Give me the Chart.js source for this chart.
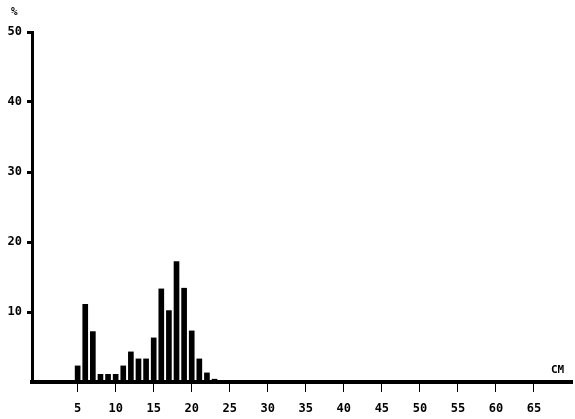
<!DOCTYPE html>
<html>
<head>
<meta charset="utf-8">
<script src="https://cdn.jsdelivr.net/npm/chart.js@4"></script>
<style>
  html, body { margin: 0; padding: 0; background: #fff; }
  #wrap { width: 575px; height: 419px; }
</style>
</head>
<body>
<div id="wrap"><canvas id="chart" width="575" height="419"></canvas></div>
<script>
// length class (cm) and share of catch (%)
const lengths = [5, 6, 7, 8, 9, 10, 11, 12, 13, 14, 15, 16, 17, 18, 19, 20, 21, 22, 23];
const percents = [2.3, 11.1, 7.2, 1.1, 1.1, 1.1, 2.3, 4.3, 3.3, 3.3, 6.3, 13.3, 10.2, 17.2, 13.4, 7.3, 3.3, 1.3, 0.4];
const xTicks = [5, 10, 15, 20, 25, 30, 35, 40, 45, 50, 55, 60, 65];
const yTicks = [10, 20, 30, 40, 50];
const xUnit = 'CM';
const yUnit = '%';

const font = { family: 'DejaVu Sans Mono', size: 12, weight: 'bold' };

const unitLabels = {
  id: 'unitLabels',
  afterDraw(chart) {
    const ctx = chart.ctx;
    const area = chart.chartArea;
    ctx.save();
    ctx.fillStyle = '#000';
    ctx.font = 'bold 11px "DejaVu Sans Mono"';
    ctx.textAlign = 'left';
    ctx.textBaseline = 'alphabetic';
    ctx.fillText(xUnit, area.right - 21, area.bottom - 9);
    ctx.fillText(yUnit, 11, 15);
    ctx.restore();
  }
};

new Chart(document.getElementById('chart'), {
  type: 'bar',
  data: {
    datasets: [{
      data: lengths.map((l, i) => ({ x: l, y: percents[i] })),
      backgroundColor: '#000',
      borderWidth: 0,
      barThickness: 5
    }]
  },
  options: {
    responsive: false,
    animation: false,
    layout: { padding: { top: 32, right: 3, left: 0, bottom: 0 } },
    plugins: { legend: { display: false }, tooltip: { enabled: false } },
    scales: {
      x: {
        type: 'linear',
        min: -1,
        max: 70,
        offset: false,
        afterBuildTicks: s => { s.ticks = xTicks.map(v => ({ value: v })); },
        afterFit: s => { s.height = 37; },
        grid: { display: true, offset: false, drawOnChartArea: false, drawTicks: true, tickLength: 10, color: '#000', lineWidth: 1 },
        border: { display: true, color: '#000', width: 4, dash: [5, 2.6] },
        ticks: { color: '#000', font: font, padding: 10, maxRotation: 0, autoSkip: false }
      },
      y: {
        min: 0,
        max: 50,
        afterBuildTicks: s => { s.ticks = yTicks.map(v => ({ value: v })); },
        afterFit: s => { s.width = 32; },
        grid: { display: true, drawOnChartArea: false, drawTicks: true, tickLength: 5, color: '#000', lineWidth: 3 },
        border: { display: true, color: '#000', width: 3 },
        ticks: { color: '#000', font: font, padding: 5 }
      }
    }
  },
  plugins: [unitLabels]
});
</script>
</body>
</html>
